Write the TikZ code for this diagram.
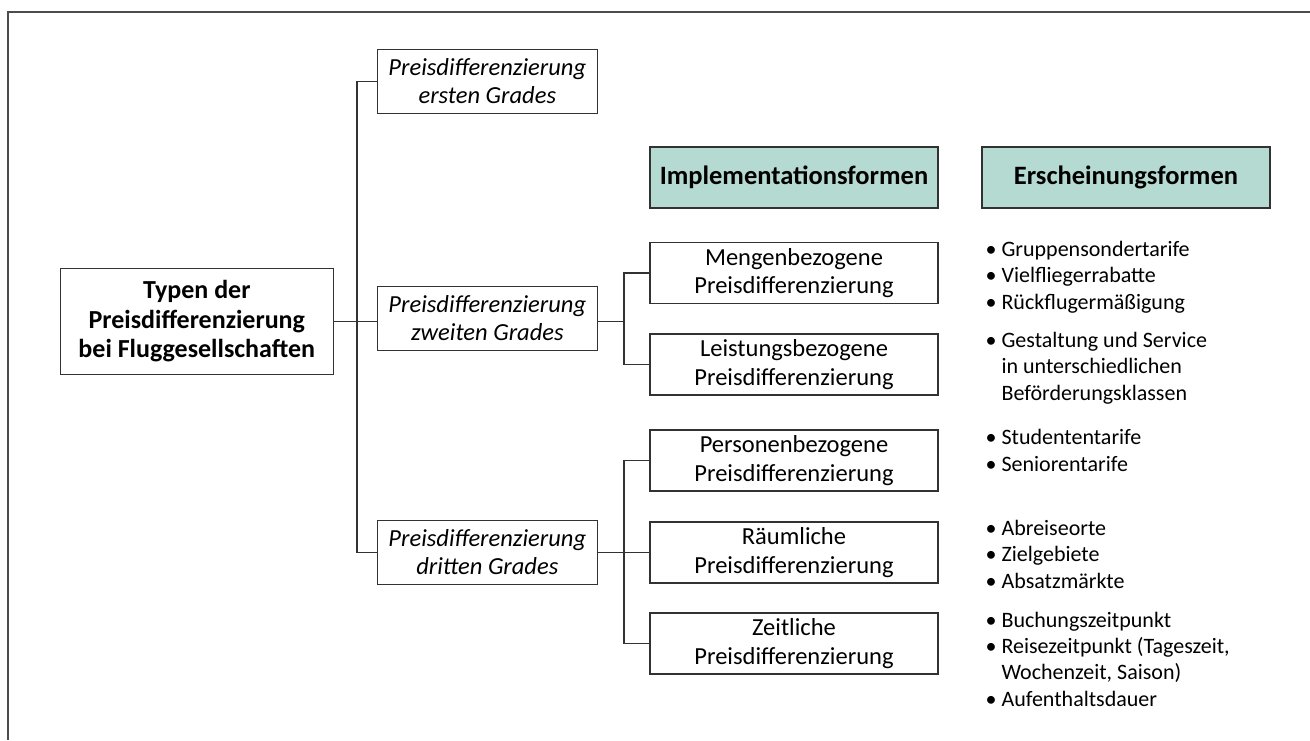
\documentclass[tikz,border=0pt]{standalone}
\usepackage{fontspec}
\setmainfont{Carlito}
\definecolor{headfill}{RGB}{180,218,210}
\definecolor{linegray}{RGB}{50,50,50}
\newcommand{\bul}{\makebox[16pt][l]{\textbullet}}
\newcommand{\ind}{\hspace*{16pt}}

\begin{document}
\begin{tikzpicture}[x=1pt,y=-1pt,line width=1.1pt,
  box/.style={draw=linegray,line width=1.1pt,align=center,inner sep=0pt,
    minimum height=61pt,font=\fontsize{24.5}{28.5}\selectfont},
  grad/.style={box,minimum width=219.5pt,minimum height=64.5pt,
    font=\fontsize{24.5}{28}\selectfont\itshape},
  impl/.style={box,minimum width=288pt},
  head/.style={box,minimum width=288pt,fill=headfill,
    font=\fontsize{26.5}{30}\selectfont\bfseries},
  list/.style={anchor=base west,align=left,inner sep=0pt,
    font=\fontsize{22}{26.3}\selectfont}]

\useasboundingbox (0,0) rectangle (1310,740);
% frame
\draw[line width=1.3pt,draw=black!70] (1310,12) -| (8,740);

% tree
\node[box,minimum width=272.5pt,minimum height=106pt,
  font=\fontsize{26}{29.5}\selectfont\bfseries] (root) at (196.8,321.5)
  {Typen der\\Preisdifferenzierung\\bei Fluggesellschaften};
\node[grad] (g1) at (487.3,81.5) {Preisdifferenzierung\\ersten Grades};
\node[grad] (g2) at (487.3,318.5) {Preisdifferenzierung\\zweiten Grades};
\node[grad] (g3) at (487.3,552.5) {Preisdifferenzierung\\dritten Grades};

% headers
\node[head] (himpl) at (794,177.5) {Implementationsformen};
\node[head] (hersch) at (1126,177.5) {Erscheinungsformen};

\node[impl] (menge) at (794,273) {Mengenbezogene\\Preisdifferenzierung};
\node[impl] (leist) at (794,364.5) {Leistungsbezogene\\Preisdifferenzierung};
\node[impl] (pers) at (794,460.5) {Personenbezogene\\Preisdifferenzierung};
\node[impl] (raum) at (794,552.5) {Räumliche\\Preisdifferenzierung};
\node[impl] (zeit) at (794,643.5) {Zeitliche\\Preisdifferenzierung};

% lists
\node[list] (lmenge) at (985,309) {\bul Gruppensondertarife\\\bul Vielfliegerrabatte\\\bul Rückflugermäßigung};
\node[list] (lleist) at (985,400) {\bul Gestaltung und Service\\\ind in unterschiedlichen\\\ind Beförderungsklassen};
\node[list] (lpers) at (985,471) {\bul Studententarife\\\bul Seniorentarife};
\node[list] (lraum) at (985,588) {\bul Abreiseorte\\\bul Zielgebiete\\\bul Absatzmärkte};
\node[list] (lzeit) at (985,706) {\bul Buchungszeitpunkt\\\bul Reisezeitpunkt (Tageszeit,\\\ind Wochenzeit, Saison)\\\bul Aufenthaltsdauer};

% connectors
\coordinate (bus1) at (357,321.5);
\coordinate (bus2) at (624,321.5);
\coordinate (bus3) at (624,552.5);
\draw[linegray] (root.east) -- (bus1) -- (bus1 -| g2.west);
\draw[linegray] (g1.west) -| (bus1) |- (g3.west);
\draw[linegray] (bus2 -| g2.east) -- (bus2);
\draw[linegray] (menge.west) -| (bus2) |- (leist.west);
\draw[linegray] (g3.east) -- (bus3) -- (raum.west);
\draw[linegray] (pers.west) -| (bus3) |- (zeit.west);
\end{tikzpicture}
\end{document}
